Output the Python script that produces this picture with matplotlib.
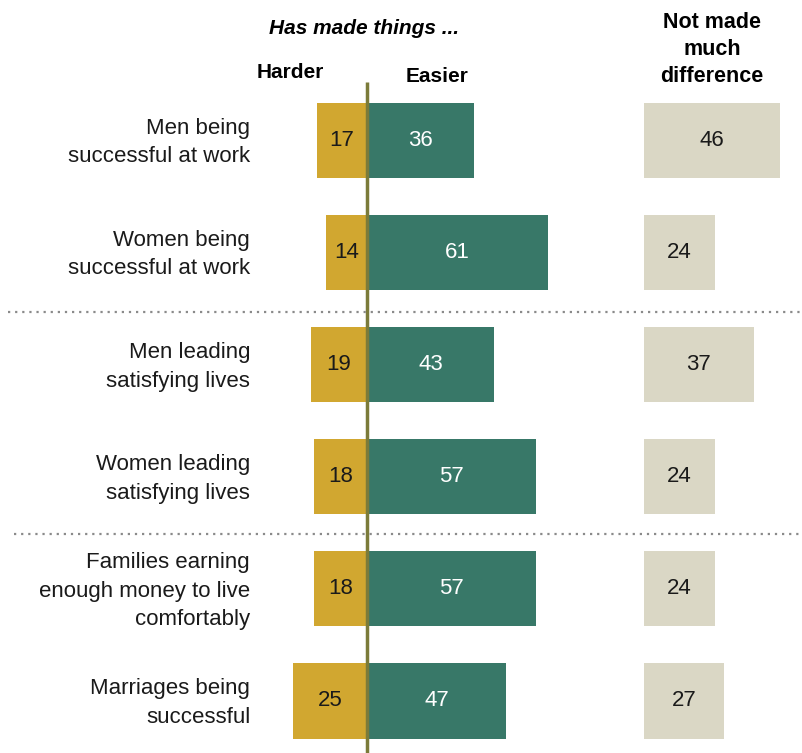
import matplotlib.pyplot as plt

# ── Data ───────────────────────────────────────────────
categories = [
    "Men being\nsuccessful at work",
    "Women being\nsuccessful at work",
    "Men leading\nsatisfying lives",
    "Women leading\nsatisfying lives",
    "Families earning\nenough money to live\ncomfortably",
    "Marriages being\nsuccessful",
]
harder  = [17, 14, 19, 18, 18, 25]
easier  = [36, 61, 43, 57, 57, 47]
no_diff = [46, 24, 37, 24, 24, 27]

# ── Style ──────────────────────────────────────────────
C_HARD  = "#D1A730"
C_EASY  = "#387868"
C_NODIF = "#DAD7C5"
C_AXIS  = "#7B7B3A"
NODIF_X = 93.6     # where the "not much difference" column starts
BAR_H   = 0.67
FS      = 16

plt.rcParams["font.family"] = ["Liberation Sans", "DejaVu Sans"]

fig = plt.figure(figsize=(8.03, 7.53), dpi=100)
ax = fig.add_axes([0, 0, 1, 1])
ax.set_xlim(-124.0, 147.3)
ax.set_ylim(5.464, -1.25)
ax.axis("off")

rows = range(len(categories))
ax.barh(rows, [-v for v in harder], height=BAR_H, color=C_HARD)
ax.barh(rows, easier, height=BAR_H, color=C_EASY)
ax.barh(rows, no_diff, left=NODIF_X, height=BAR_H, color=C_NODIF)

for i in rows:
    ax.text(-harder[i] / 2, i, str(harder[i]), ha="center", va="center",
            fontsize=FS, color="#1a1a1a")
    ax.text(easier[i] / 2, i, str(easier[i]), ha="center", va="center",
            fontsize=FS, color="white")
    ax.text(NODIF_X + no_diff[i] / 2, i, str(no_diff[i]), ha="center",
            va="center", fontsize=FS, color="#1a1a1a")
    ax.text(-39.5, i + 0.02, categories[i], ha="right", va="center",
            fontsize=FS, color="#1a1a1a", linespacing=1.47)

# center line between harder / easier
ax.plot([0, 0], [-0.52, 5.464], color=C_AXIS, lw=2.5, solid_capstyle="butt")

# dotted group separators
ax.plot([-121.3, 147.3], [1.53, 1.53], color="#8a8a8a", lw=1.6,
        ls=(0, (1, 2.2)))
ax.plot([-119.3, 147.3], [3.51, 3.51], color="#8a8a8a", lw=1.6,
        ls=(0, (1, 2.2)))

# column headers
ax.text(-1, -1.0, "Has made things ...", ha="center", va="center",
        fontsize=15, fontweight="bold", fontstyle="italic")
ax.text(-26, -0.6, "Harder", ha="center", va="center", fontsize=15,
        fontweight="bold")
ax.text(23.5, -0.57, "Easier", ha="center", va="center", fontsize=15,
        fontweight="bold")
ax.text(116.5, -0.81, "Not made\nmuch\ndifference", ha="center",
        va="center", fontsize=15.5, fontweight="bold", linespacing=1.38)

fig.savefig("out.png", dpi=100)
